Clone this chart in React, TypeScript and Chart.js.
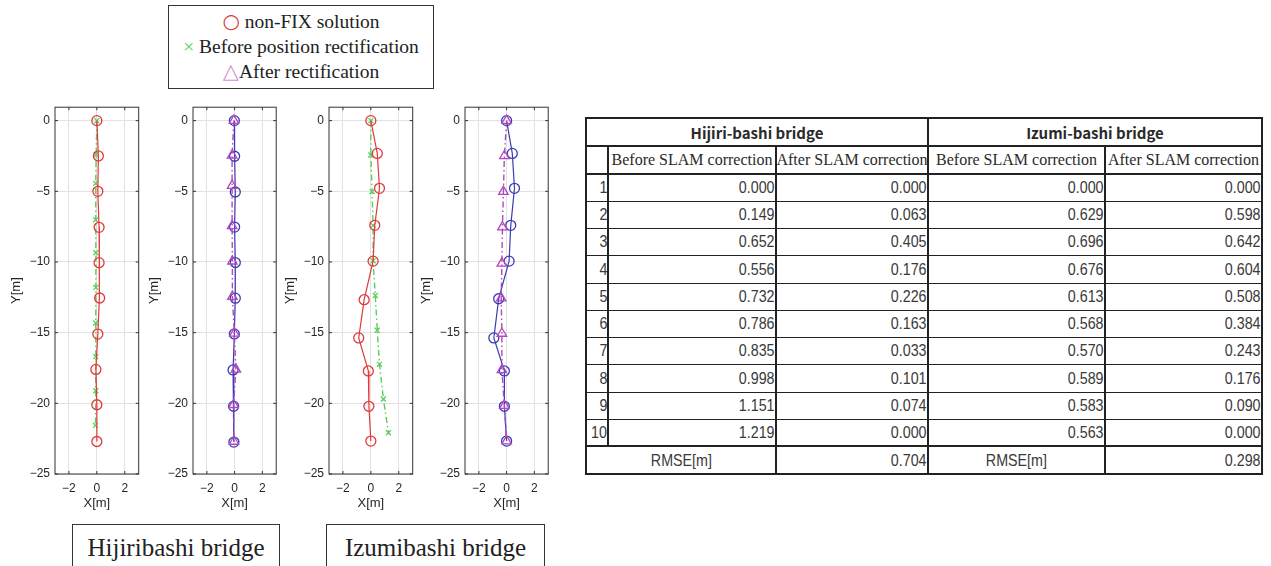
import React, { useEffect, useRef } from 'react';
import { Chart, registerables } from 'chart.js';

Chart.register(...registerables);

// ---------- Plot data (metres) ----------
const xTicks = [-2, 0, 2];
const yTicks = [-25, -20, -15, -10, -5, 0];

// Hijiribashi bridge – before rectification
const hbNonFixX = [0, 0.11, 0.07, 0.16, 0.16, 0.2, 0.07, -0.07, 0, 0];
const hbNonFixY = [0, -2.5, -5.0, -7.55, -10.05, -12.55, -15.1, -17.6, -20.1, -22.7];
const hbBeforeX = [0, -0.05, -0.08, -0.08, -0.07, -0.07, -0.08, -0.07, -0.07, -0.1];
const hbBeforeY = [0, -2.4, -4.44, -7.02, -9.35, -11.8, -14.32, -16.7, -19.11, -21.56];

// Hijiribashi bridge – after rectification
const haNonFixX = [-0.02, 0, 0.05, 0, 0.05, 0.05, -0.02, -0.11, -0.07, -0.05];
const haNonFixY = [0, -2.52, -5.05, -7.53, -10.04, -12.56, -15.09, -17.64, -20.2, -22.74];
const haAfterX = [-0.05, -0.18, -0.18, -0.18, -0.16, -0.16, -0.02, 0.09, -0.07, -0.05];
const haAfterY = [0, -2.45, -4.6, -7.45, -9.95, -12.45, -15.05, -17.6, -20.1, -22.7];

// Izumibashi bridge – before rectification
const ibNonFixX = [0, 0.46, 0.62, 0.28, 0.16, -0.48, -0.87, -0.18, -0.14, 0];
const ibNonFixY = [0, -2.32, -4.79, -7.41, -9.94, -12.67, -15.37, -17.71, -20.21, -22.67];
const ibBeforeX = [0, 0, 0.09, 0.16, 0.16, 0.32, 0.46, 0.62, 0.9, 1.26];
const ibBeforeY = [0, -2.43, -5.02, -7.41, -9.92, -12.37, -14.83, -17.24, -19.69, -22.08];

// Izumibashi bridge – after rectification
const iaNonFixX = [0, 0.41, 0.57, 0.3, 0.18, -0.57, -0.92, -0.16, -0.16, 0];
const iaNonFixY = [0, -2.32, -4.79, -7.41, -9.94, -12.6, -15.37, -17.71, -20.21, -22.67];
const iaAfterX = [0, -0.16, -0.23, -0.3, -0.34, -0.39, -0.34, -0.34, -0.16, 0];
const iaAfterY = [0, -2.5, -5.02, -7.53, -10.1, -12.56, -15.06, -17.64, -20.16, -22.67];

// ---------- Table data ----------
const rowLabels = ['1', '2', '3', '4', '5', '6', '7', '8', '9', '10'];
const hijiriBeforeErr = [0.0, 0.149, 0.652, 0.556, 0.732, 0.786, 0.835, 0.998, 1.151, 1.219];
const hijiriAfterErr = [0.0, 0.063, 0.405, 0.176, 0.226, 0.163, 0.033, 0.101, 0.074, 0.0];
const izumiBeforeErr = [0.0, 0.629, 0.696, 0.676, 0.613, 0.568, 0.57, 0.589, 0.583, 0.563];
const izumiAfterErr = [0.0, 0.598, 0.642, 0.604, 0.508, 0.384, 0.243, 0.176, 0.09, 0.0];
const rmseValues = [0.704, 0.298];

// ---------- Styles ----------
const RED = '#e0393b';
const GREEN = '#5ccc5c';
const BLUE = '#3b3bb5';
const MAGENTA = '#b347bd';
const DASHDOT = [6, 3, 1.5, 3];

const AXIS_FONT = '"Liberation Sans", Arial, sans-serif';
const CW = 138;
const CH = 420;

const framePlugin = {
  id: 'frame',
  afterDraw(chart: any) {
    const { ctx, chartArea } = chart;
    const { left, right, top, bottom } = chartArea;
    const xs = chart.scales.x;
    const ys = chart.scales.y;
    ctx.save();
    ctx.strokeStyle = '#333';
    ctx.lineWidth = 1;
    ctx.strokeRect(left, top, right - left, bottom - top);
    ctx.beginPath();
    for (const v of xTicks) {
      const px = xs.getPixelForValue(v);
      ctx.moveTo(px, bottom);
      ctx.lineTo(px, bottom - 3);
      ctx.moveTo(px, top);
      ctx.lineTo(px, top + 3);
    }
    for (const v of yTicks) {
      const py = ys.getPixelForValue(v);
      ctx.moveTo(left, py);
      ctx.lineTo(left + 3, py);
      ctx.moveTo(right, py);
      ctx.lineTo(right - 3, py);
    }
    ctx.stroke();
    ctx.restore();
  },
};

const fmt = (v: any) => {
  const n = Number(v);
  return n < 0 ? '\u2212' + Math.abs(n) : String(n);
};

type Series = {
  x: number[];
  y: number[];
  color: string;
  dash: number[];
  marker: string;
  r: number;
  order: number;
  lw: number;
};

function Panel({ left, series }: { left: number; series: Series[] }) {
  const ref = useRef<HTMLCanvasElement>(null);
  useEffect(() => {
    const chart = new Chart(ref.current as HTMLCanvasElement, {
      type: 'scatter',
      data: {
        datasets: series.map((s) => ({
          data: s.x.map((v, i) => ({ x: v, y: s.y[i] })),
          showLine: true,
          borderColor: s.color,
          borderWidth: s.lw,
          borderDash: s.dash,
          pointStyle: s.marker as any,
          pointRadius: s.r,
          pointBorderColor: s.color,
          pointBackgroundColor: 'rgba(0,0,0,0)',
          pointBorderWidth: 1.3,
          order: s.order,
        })),
      },
      options: {
        animation: false,
        responsive: false,
        maintainAspectRatio: false,
        layout: { padding: { top: 9.3, right: 3, bottom: 0, left: 0 } },
        plugins: { legend: { display: false }, tooltip: { enabled: false } },
        scales: {
          x: {
            type: 'linear',
            min: -3,
            max: 3,
            afterBuildTicks: (a: any) => {
              a.ticks = xTicks.map((v) => ({ value: v }));
            },
            afterFit: (a: any) => {
              a.height = 41;
            },
            grid: { color: '#e2e2e2', drawTicks: false },
            border: { display: false },
            ticks: {
              padding: 7,
              color: '#262626',
              font: { family: AXIS_FONT, size: 12 },
              callback: fmt,
              maxRotation: 0,
              autoSkip: false,
            },
            title: {
              display: true,
              text: 'X[m]',
              color: '#262626',
              font: { family: AXIS_FONT, size: 13 },
              padding: { top: 0, bottom: 4 },
            },
          },
          y: {
            type: 'linear',
            min: -25,
            max: 0.95,
            afterBuildTicks: (a: any) => {
              a.ticks = yTicks.map((v) => ({ value: v }));
            },
            afterFit: (a: any) => {
              a.width = 48;
            },
            grid: { color: '#e2e2e2', drawTicks: false },
            border: { display: false },
            ticks: {
              padding: 5,
              color: '#262626',
              font: { family: AXIS_FONT, size: 12 },
              callback: fmt,
              autoSkip: false,
            },
            title: {
              display: true,
              text: 'Y[m]',
              color: '#262626',
              font: { family: AXIS_FONT, size: 13 },
              padding: { top: 2, bottom: 0 },
            },
          },
        },
      } as any,
      plugins: [framePlugin],
    });
    return () => chart.destroy();
  }, []);
  return (
    <canvas
      ref={ref}
      width={CW}
      height={CH}
      style={{ position: 'absolute', left, top: 95, width: CW, height: CH }}
    />
  );
}

const nonFix = (x: number[], y: number[], color: string): Series => ({
  x, y, color, dash: [], marker: 'circle', r: 5, order: 1, lw: 1.2,
});
const before = (x: number[], y: number[]): Series => ({
  x, y, color: GREEN, dash: DASHDOT, marker: 'crossRot', r: 3.5, order: 2, lw: 1.4,
});
const after = (x: number[], y: number[]): Series => ({
  x, y, color: MAGENTA, dash: DASHDOT, marker: 'triangle', r: 5.5, order: 0, lw: 1.4,
});

// ---------- Table layout ----------
const colX = [586, 608, 776, 928, 1105, 1262];
const rowY = [118, 146, 174, 201, 228, 255, 283, 310, 337, 364, 392, 419, 446, 474];

const NUM_FONT = '"Liberation Sans", Arial, sans-serif';
const HEAD_FONT = '"Noto Sans CJK JP", "Noto Sans", sans-serif';
const SERIF = '"Liberation Serif", "Times New Roman", serif';

function Narrow({ origin, children }: any) {
  return (
    <span style={{ display: 'inline-block', transform: 'scaleX(0.84)', transformOrigin: origin + ' center' }}>
      {children}
    </span>
  );
}

function Cell({ c0, c1, r, align, font, size, weight, color, children }: any) {
  return (
    <div
      style={{
        position: 'absolute',
        left: colX[c0] + 1,
        width: colX[c1] - colX[c0] - 2,
        top: rowY[r],
        height: rowY[r + 1] - rowY[r],
        display: 'flex',
        alignItems: 'center',
        justifyContent: align,
        overflow: 'hidden',
        whiteSpace: 'nowrap',
        fontFamily: font,
        fontSize: size,
        fontWeight: weight || 'normal',
        color: color || '#2a2a2a',
        lineHeight: 1,
      }}
    >
      {children}
    </div>
  );
}

function DataTable() {
  const lines: any[] = [];
  rowY.forEach((y, i) => {
    const thick = i <= 2 || i >= rowY.length - 2;
    const h = thick ? 2 : 1;
    lines.push(
      <div key={'h' + i} style={{ position: 'absolute', left: colX[0] - 1, width: colX[5] - colX[0] + 2, top: y - (h === 2 ? 1 : 0), height: h, background: '#222' }} />
    );
  });
  const vSpecs = [
    [colX[0], rowY[0], rowY[13]],
    [colX[1], rowY[1], rowY[12]],
    [colX[2], rowY[1], rowY[13]],
    [colX[3], rowY[0], rowY[13]],
    [colX[4], rowY[1], rowY[13]],
    [colX[5], rowY[0], rowY[13]],
  ];
  vSpecs.forEach(([x, y0, y1], i) => {
    lines.push(
      <div key={'v' + i} style={{ position: 'absolute', left: x - 1, width: 2, top: y0, height: y1 - y0, background: '#222' }} />
    );
  });
  const cells: any[] = [];
  cells.push(<Cell key="h1" c0={0} c1={3} r={0} align="center" font={HEAD_FONT} size={15} weight="bold">Hijiri-bashi bridge</Cell>);
  cells.push(<Cell key="h2" c0={3} c1={5} r={0} align="center" font={HEAD_FONT} size={15} weight="bold">Izumi-bashi bridge</Cell>);
  const subs = ['Before SLAM correction', 'After SLAM correction', 'Before SLAM correction', 'After SLAM correction'];
  subs.forEach((t, i) => {
    cells.push(<Cell key={'s' + i} c0={i + 1} c1={i + 2} r={1} align="center" font={SERIF} size={16}>{t}</Cell>);
  });
  rowLabels.forEach((lab, i) => {
    const r = i + 2;
    cells.push(<Cell key={'l' + i} c0={0} c1={1} r={r} align="flex-end" font={NUM_FONT} size={17} color="#3a3a3a"><Narrow origin="right">{lab}</Narrow></Cell>);
    const vals = [hijiriBeforeErr[i], hijiriAfterErr[i], izumiBeforeErr[i], izumiAfterErr[i]];
    vals.forEach((v, j) => {
      cells.push(<Cell key={'d' + i + '_' + j} c0={j + 1} c1={j + 2} r={r} align="flex-end" font={NUM_FONT} size={17} color="#3a3a3a"><Narrow origin="right">{v.toFixed(3)}</Narrow></Cell>);
    });
  });
  cells.push(<Cell key="r1" c0={0} c1={2} r={12} align="center" font={NUM_FONT} size={17} color="#3a3a3a"><Narrow origin="center">RMSE[m]</Narrow></Cell>);
  cells.push(<Cell key="r2" c0={2} c1={3} r={12} align="flex-end" font={NUM_FONT} size={17} color="#3a3a3a"><Narrow origin="right">{rmseValues[0].toFixed(3)}</Narrow></Cell>);
  cells.push(<Cell key="r3" c0={3} c1={4} r={12} align="center" font={NUM_FONT} size={17} color="#3a3a3a"><Narrow origin="center">RMSE[m]</Narrow></Cell>);
  cells.push(<Cell key="r4" c0={4} c1={5} r={12} align="flex-end" font={NUM_FONT} size={17} color="#3a3a3a"><Narrow origin="right">{rmseValues[1].toFixed(3)}</Narrow></Cell>);
  return (
    <>
      {cells}
      {lines}
    </>
  );
}

export default function App() {
  return (
    <div
      style={{
        position: 'fixed',
        left: 0,
        top: 0,
        width: 1271,
        height: 566,
        overflow: 'hidden',
        background: '#fff',
      }}
    >
      <div
        style={{
          position: 'absolute',
          left: 168,
          top: 5,
          width: 266,
          height: 84,
          boxSizing: 'border-box',
          border: '1px solid #333',
          fontFamily: SERIF,
          fontSize: 19.5,
          color: '#222',
          textAlign: 'center',
          lineHeight: '25px',
          paddingTop: 3,
          whiteSpace: 'nowrap',
        }}
      >
        <div><span style={{ color: RED, fontFamily: '"DejaVu Sans", sans-serif', fontSize: 20 }}>○</span> non-FIX solution</div>
        <div><span style={{ color: GREEN }}>×</span> Before position rectification</div>
        <div><span style={{ color: '#d58ed6', fontFamily: '"DejaVu Sans", sans-serif', fontSize: 21 }}>△</span>After rectification</div>
      </div>

      <Panel left={7} series={[nonFix(hbNonFixX, hbNonFixY, RED), before(hbBeforeX, hbBeforeY)]} />
      <Panel left={145} series={[nonFix(haNonFixX, haNonFixY, BLUE), after(haAfterX, haAfterY)]} />
      <Panel left={281} series={[nonFix(ibNonFixX, ibNonFixY, RED), before(ibBeforeX, ibBeforeY)]} />
      <Panel left={417} series={[nonFix(iaNonFixX, iaNonFixY, BLUE), after(iaAfterX, iaAfterY)]} />

      <div style={{ position: 'absolute', left: 72, top: 524, width: 208, height: 70, boxSizing: 'border-box', border: '1px solid #333', fontFamily: SERIF, fontSize: 25, color: '#222', textAlign: 'center', lineHeight: '46px' }}>
        Hijiribashi bridge
      </div>
      <div style={{ position: 'absolute', left: 326, top: 524, width: 219, height: 70, boxSizing: 'border-box', border: '1px solid #333', fontFamily: SERIF, fontSize: 25, color: '#222', textAlign: 'center', lineHeight: '46px' }}>
        Izumibashi bridge
      </div>

      <DataTable />
    </div>
  );
}
